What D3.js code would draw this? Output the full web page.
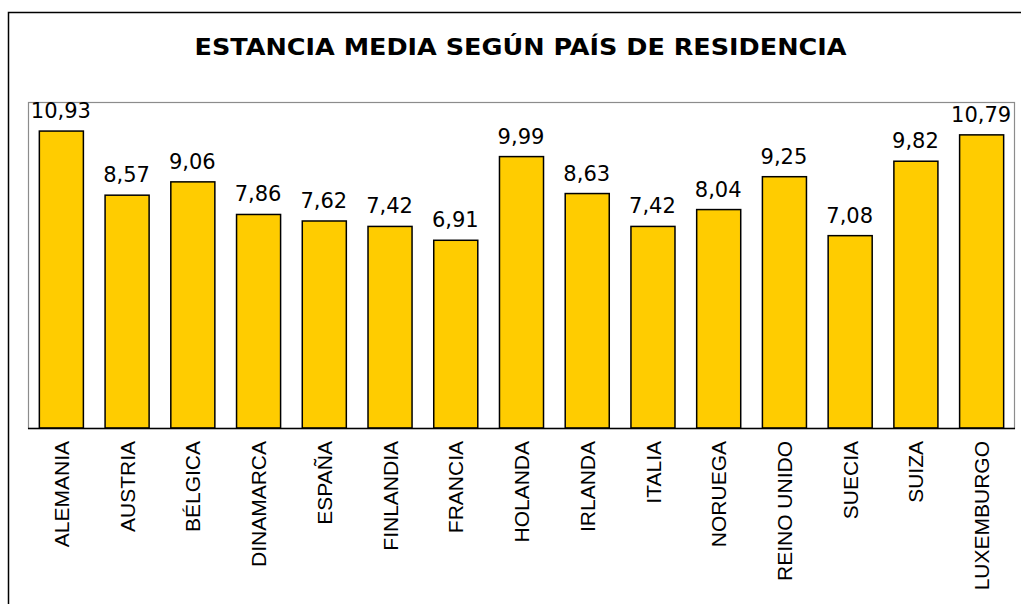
<!DOCTYPE html>
<html>
<head>
<meta charset="utf-8">
<script src="https://cdn.jsdelivr.net/npm/d3@7/dist/d3.min.js"></script>
<style>
  html, body { margin: 0; padding: 0; background: #fff; }
  svg { display: block; }
</style>
</head>
<body>
<div id="chart"></div>
<script>
// categories and values
const paises = ['ALEMANIA', 'AUSTRIA', 'BÉLGICA', 'DINAMARCA', 'ESPAÑA', 'FINLANDIA', 'FRANCIA',
  'HOLANDA', 'IRLANDA', 'ITALIA', 'NORUEGA', 'REINO UNIDO', 'SUECIA', 'SUIZA', 'LUXEMBURGO'];
const estancia = [10.93, 8.57, 9.06, 7.86, 7.62, 7.42, 6.91, 9.99, 8.63, 7.42, 8.04, 9.25, 7.08, 9.82, 10.79];
const yDomain = [0, 12];
const titulo = 'ESTANCIA MEDIA SEGÚN PAÍS DE RESIDENCIA';

const W = 1021, H = 604;
const plot = { left: 28, top: 102, right: 1014, bottom: 428 };

const svg = d3.select('#chart').append('svg').attr('width', W).attr('height', H);

// outer chart frame (runs off right/bottom like the screenshot)
svg.append('rect').attr('x', 8.5).attr('y', 12.5).attr('width', W).attr('height', H)
  .attr('fill', '#fff').attr('stroke', '#000').attr('stroke-width', 1.5);

// title is Verdana-wide in the original, stretch DejaVu to the same span
svg.append('text').attr('x', 520.5).attr('y', 55).attr('text-anchor', 'middle')
  .attr('font-family', 'DejaVu Sans, Verdana, sans-serif').attr('font-weight', 'bold')
  .attr('font-size', 23.5).attr('fill', '#000')
  .attr('textLength', 652).attr('lengthAdjust', 'spacingAndGlyphs')
  .text(titulo);

const x = d3.scaleBand().domain(paises).range([plot.left, plot.right])
  .paddingInner(0.33).paddingOuter(0.165);
const y = d3.scaleLinear().domain(yDomain).range([plot.bottom, plot.top]);

// plot area border
svg.append('rect').attr('x', plot.left + 0.5).attr('y', plot.top + 0.5)
  .attr('width', plot.right - plot.left).attr('height', plot.bottom - plot.top)
  .attr('fill', 'none').attr('stroke', '#8c8c8c').attr('stroke-width', 1.2);

svg.selectAll('rect.bar').data(estancia).enter().append('rect').attr('class', 'bar')
  .attr('x', (d, i) => x(paises[i]) + 0.5)
  .attr('y', d => y(d))
  .attr('width', x.bandwidth())
  .attr('height', d => y(0) - y(d))
  .attr('fill', '#FFCC00').attr('stroke', '#000').attr('stroke-width', 1.5);

// category axis line
svg.append('line').attr('x1', plot.left).attr('x2', plot.right + 1)
  .attr('y1', plot.bottom + 0.5).attr('y2', plot.bottom + 0.5)
  .attr('stroke', '#000').attr('stroke-width', 1.5);

// value labels
svg.selectAll('text.val').data(estancia).enter().append('text').attr('class', 'val')
  .attr('x', (d, i) => x(paises[i]) + x.bandwidth() / 2)
  .attr('y', d => y(d) - 13)
  .attr('text-anchor', 'middle')
  .attr('font-family', 'DejaVu Sans, Verdana, sans-serif').attr('font-size', 21)
  .attr('fill', '#000')
  .text(d => d3.format('.2f')(d).replace('.', ','));

// rotated category labels
svg.selectAll('text.cat').data(paises).enter().append('text').attr('class', 'cat')
  .attr('transform', d => `translate(${x(d) + x.bandwidth() / 2 + 0.5},${plot.bottom + 13}) rotate(-90)`)
  .attr('dy', '0.36em')
  .attr('text-anchor', 'end')
  .attr('font-family', 'Liberation Sans, Arial, sans-serif').attr('font-size', 21)
  .attr('fill', '#000')
  .text(d => d);
</script>
</body>
</html>
